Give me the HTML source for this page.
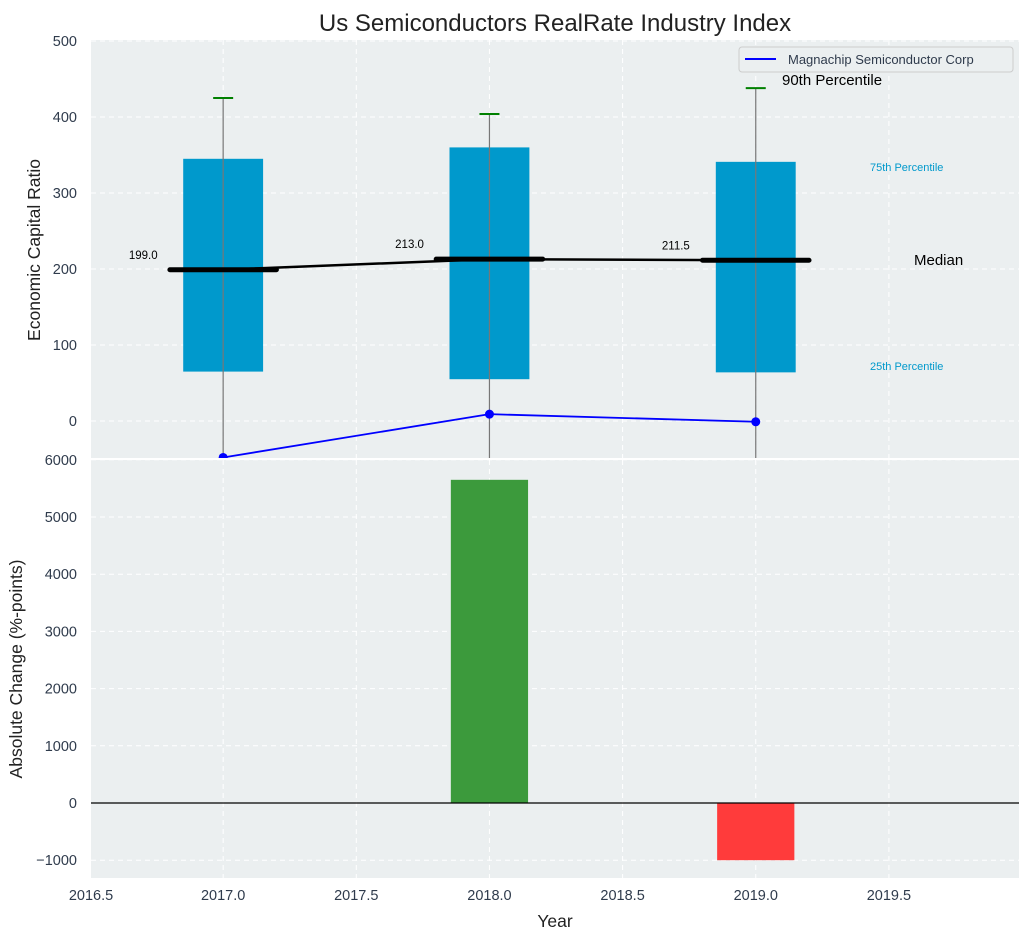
<!DOCTYPE html>
<html><head><meta charset="utf-8"><style>
body{margin:0;background:#fff;font-family:"Liberation Sans",sans-serif}
svg text{font-family:"Liberation Sans",sans-serif}
</style></head><body>
<svg id="c" width="1029" height="940" xmlns="http://www.w3.org/2000/svg"></svg>
<script>
const years=[2017,2018,2019];
const p25=[65,55,64];
const p75=[345,360,341];
const p90=[425,404,438];
const medians=[199,213,211.5];
const medianLabels=["199.0","213.0","211.5"];
const company=[-48,9,-1];
const changes=[0,5650,-1000];
const xTicks=[2016.5,2017,2017.5,2018,2018.5,2019,2019.5];
const yTopTicks=[0,100,200,300,400,500];
const yBotTicks=[-1000,0,1000,2000,3000,4000,5000,6000];

const svg=document.getElementById('c');
const NS='http://www.w3.org/2000/svg';
function mk(tag,attrs,parent){const e=document.createElementNS(NS,tag);for(const k in attrs)e.setAttribute(k,attrs[k]);(parent||svg).appendChild(e);return e;}
const L=91,R=1019;
const x=v=>L+(v-2016.5)*266.3-1;
const T0=40,T1=458,B0=460,B1=878;
const yT=v=>421-v*0.76;
const yB=v=>803-v*0.0572;

let p=mk('rect',{x:L,y:T0,width:R-L,height:T1-T0,fill:'#ebeff0'});

p=mk('rect',{x:L,y:B0,width:R-L,height:B1-B0,fill:'#ebeff0'});

const cp=mk('clipPath',{id:'ct'});
mk('rect',{x:L,y:T0,width:R-L,height:T1-T0},cp);

xTicks.forEach(t=>{
 if(t>2016.5){mk('line',{x1:x(t),x2:x(t),y1:T0,y2:T1,stroke:'#fff','stroke-dasharray':'5,4','stroke-width':1});
 mk('line',{x1:x(t),x2:x(t),y1:B0,y2:B1,stroke:'#fff','stroke-dasharray':'5,4','stroke-width':1});}
 const tx=mk('text',{x:t===2016.5?L:x(t),y:900,'text-anchor':'middle','font-size':14.5,fill:'#2f3b4c'});tx.textContent=t.toFixed(1);
 
});
yTopTicks.forEach(t=>{
 mk('line',{x1:L,x2:R,y1:yT(t),y2:yT(t),stroke:'#fff','stroke-dasharray':'5,4'});
 const tx=mk('text',{x:77,y:yT(t)+5,'text-anchor':'end','font-size':14.5,fill:'#2f3b4c'});tx.textContent=t;
 
});
yBotTicks.forEach(t=>{
 mk('line',{x1:L,x2:R,y1:yB(t),y2:yB(t),stroke:'#fff','stroke-dasharray':'5,4'});
 const tx=mk('text',{x:77,y:yB(t)+5,'text-anchor':'end','font-size':14.5,fill:'#2f3b4c'});tx.textContent=t===-1000?'\u22121000':t;
 
});

const g=mk('g',{'clip-path':'url(#ct)'});
years.forEach((yr,i)=>{
 const bx=mk('rect',{x:x(yr-0.15),y:yT(p75[i]),width:x(yr+0.15)-x(yr-0.15),height:yT(p25[i])-yT(p75[i]),fill:'#0099cc'},g);
 
 const w=mk('line',{x1:x(yr),x2:x(yr),y1:yT(p90[i]),y2:T1,stroke:'#777','stroke-width':1.2},g);
 
 const c=mk('line',{x1:x(yr)-10,x2:x(yr)+10,y1:yT(p90[i]),y2:yT(p90[i]),stroke:'green','stroke-width':2},g);
 
});
const mline=mk('polyline',{points:years.map((yr,i)=>x(yr)+','+yT(medians[i])).join(' '),fill:'none',stroke:'#000','stroke-width':2.5},g);

years.forEach((yr,i)=>{
 const m=mk('line',{x1:x(yr-0.2),x2:x(yr+0.2),y1:yT(medians[i]),y2:yT(medians[i]),stroke:'#000','stroke-width':5,'stroke-linecap':'round'},g);
 
 const t=mk('text',{x:x(yr-0.3),y:yT(medians[i])-11,'text-anchor':'middle','font-size':11.5,fill:'#000'});t.textContent=medianLabels[i];
 
});
const cl=mk('polyline',{points:years.map((yr,i)=>x(yr)+','+yT(company[i])).join(' '),fill:'none',stroke:'#0000ff','stroke-width':1.8},g);

years.forEach((yr,i)=>{const d=mk('circle',{cx:x(yr),cy:yT(company[i]),r:4.5,fill:'#0000ff'},g);
 });

[['90th Percentile',782,85,15,'#000'],['75th Percentile',870,171,11,'#0099cc'],['Median',914,265,15,'#000'],['25th Percentile',870,370,11,'#0099cc']].forEach(a=>{
 const t=mk('text',{x:a[1],y:a[2],'font-size':a[3],fill:a[4]});t.textContent=a[0];
 
});

const lg=mk('g',{});
mk('rect',{x:739,y:47,width:274,height:25,fill:'#ebeff0',stroke:'#ccc',rx:3},lg);
mk('line',{x1:745,x2:776,y1:59,y2:59,stroke:'#0000ff','stroke-width':2},lg);
const lt=mk('text',{x:788,y:64,'font-size':13,fill:'#2f3b4c'},lg);lt.textContent='Magnachip Semiconductor Corp';

years.forEach((yr,i)=>{
 if(changes[i]===0)return;
 const v=changes[i];
 const b=mk('rect',{x:x(yr-0.145),y:Math.min(yB(v),yB(0)),width:x(yr+0.145)-x(yr-0.145),height:Math.abs(yB(v)-yB(0)),fill:v>0?'#3c9a3c':'#ff3b3b'});
 
});
mk('line',{x1:L,x2:R,y1:yB(0),y2:yB(0),stroke:'#000','stroke-width':1.2});

let t=mk('text',{x:555,y:31,'text-anchor':'middle','font-size':24,fill:'#222'});t.textContent='Us Semiconductors RealRate Industry Index';

t=mk('text',{x:555,y:927,'text-anchor':'middle','font-size':17.5,fill:'#222'});t.textContent='Year';

t=mk('text',{x:40,y:250,'text-anchor':'middle','font-size':17.5,fill:'#222',transform:'rotate(-90 40 250)'});t.textContent='Economic Capital Ratio';

t=mk('text',{x:22,y:669,'text-anchor':'middle','font-size':17.5,fill:'#222',transform:'rotate(-90 22 669)'});t.textContent='Absolute Change (%-points)';

</script>
</body></html>
